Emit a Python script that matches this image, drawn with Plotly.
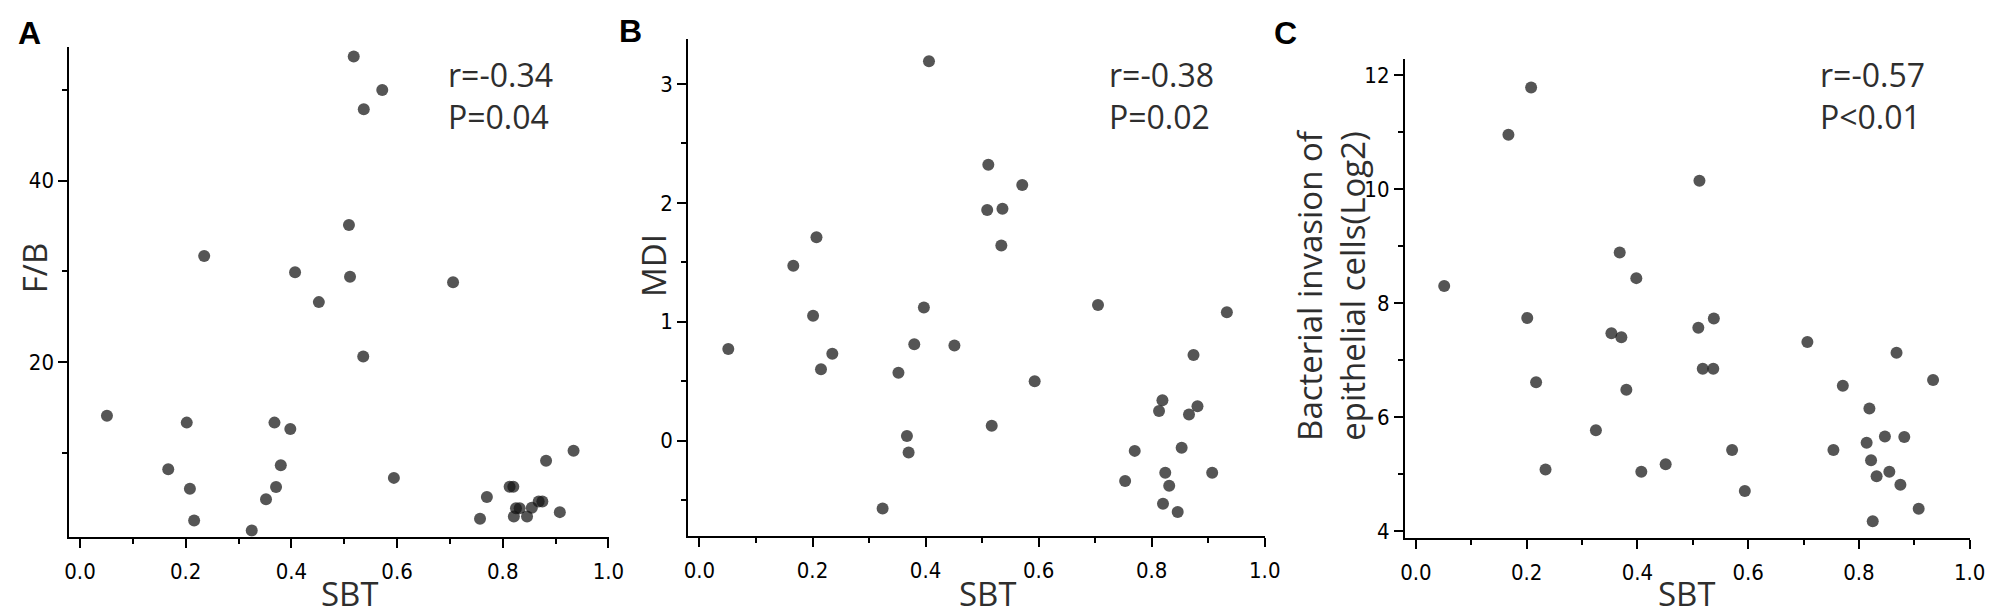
import plotly.graph_objects as go

# panel A: SBT vs F/B
sbt_a = [0.518, 0.572, 0.537, 0.509, 0.235, 0.407, 0.511, 0.706, 0.452, 0.536,
         0.051, 0.202, 0.368, 0.398, 0.167, 0.380, 0.594, 0.208, 0.371, 0.352,
         0.216, 0.325, 0.757, 0.770, 0.813, 0.820, 0.825, 0.832, 0.821, 0.846,
         0.855, 0.868, 0.875, 0.908, 0.882, 0.934]
fb = [53.7, 50.0, 47.9, 35.1, 31.7, 29.9, 29.4, 28.8, 26.6, 20.6,
      14.05, 13.3, 13.3, 12.6, 8.15, 8.6, 7.2, 6.0, 6.2, 4.84,
      2.5, 1.38, 2.7, 5.1, 6.23, 6.23, 3.86, 3.86, 2.95, 2.95,
      3.9, 4.6, 4.6, 3.42, 9.1, 10.2]

# panel B: SBT vs MDI
sbt_b = [0.406, 0.511, 0.509, 0.536, 0.534, 0.207, 0.166, 0.201, 0.397, 0.051,
         0.235, 0.215, 0.380, 0.451, 0.352, 0.517, 0.367, 0.370, 0.324, 0.571,
         0.705, 0.933, 0.874, 0.593, 0.819, 0.813, 0.881, 0.866, 0.770, 0.853,
         0.753, 0.824, 0.831, 0.907, 0.820, 0.846]
mdi = [3.19, 2.32, 1.94, 1.95, 1.64, 1.71, 1.47, 1.05, 1.12, 0.77,
       0.73, 0.60, 0.81, 0.80, 0.57, 0.125, 0.04, -0.10, -0.57, 2.15,
       1.14, 1.08, 0.72, 0.50, 0.34, 0.25, 0.29, 0.22, -0.086, -0.06,
       -0.34, -0.27, -0.38, -0.27, -0.53, -0.60]

# panel C: SBT vs bacterial invasion (log2)
sbt_c = [0.208, 0.167, 0.512, 0.368, 0.398, 0.051, 0.201, 0.538, 0.510, 0.353,
         0.371, 0.707, 0.868, 0.518, 0.537, 0.934, 0.217, 0.771, 0.380, 0.819,
         0.325, 0.847, 0.882, 0.814, 0.571, 0.754, 0.822, 0.451, 0.234, 0.407,
         0.855, 0.832, 0.875, 0.594, 0.908, 0.825]
invasion = [11.79, 10.96, 10.15, 8.89, 8.44, 8.30, 7.74, 7.73, 7.57, 7.47,
            7.40, 7.32, 7.13, 6.85, 6.85, 6.65, 6.61, 6.55, 6.48, 6.15,
            5.77, 5.66, 5.65, 5.55, 5.42, 5.42, 5.24, 5.17, 5.08, 5.04,
            5.04, 4.96, 4.81, 4.70, 4.39, 4.17]

panel_letters = ["A", "B", "C"]
y_titles = ["F/B", "MDI", "Bacterial invasion of<br>epithelial cells(Log2)"]
r_texts = ["r=-0.34", "r=-0.38", "r=-0.57"]
p_texts = ["P=0.04", "P=0.02", "P<0.01"]

W, H = 1994, 613
TICK_FONT = dict(family="Liberation Sans Narrow, Arial Narrow, DejaVu Sans Condensed, sans-serif",
                 size=22, color="black")
TITLE_FONT = dict(family="Open Sans, Noto Sans, sans-serif", size=33, color="#2e2e2e")
STAT_FONT = dict(family="Open Sans, Noto Sans, sans-serif", size=32, color="#2e2e2e")


def px_x(v):
    return v / W


def px_y(v):
    return 1 - v / H


# pixel boxes of each plot area: left, right, top, bottom
boxes = [(57, 602, 39, 534), (682, 1265, 31, 533), (1406, 1977, 52, 535)]
y_ranges = [[0.7, 54.8], [-0.8, 3.38], [3.88, 12.28]]
y_dticks = [20, 1, 2]
y_minor = [10, 0.5, 1]

fig = go.Figure()

series = [(sbt_a, fb), (sbt_b, mdi), (sbt_c, invasion)]
for i, (xs, ys) in enumerate(series):
    suffix = "" if i == 0 else str(i + 1)
    fig.add_trace(
        go.Scatter(
            x=xs,
            y=ys,
            mode="markers",
            marker=dict(size=12, color="rgb(20,20,20)", opacity=0.72,
                        line=dict(width=0)),
            xaxis="x" + suffix,
            yaxis="y" + suffix,
            showlegend=False,
        )
    )

layout = {}
for i, (l, r, t, b) in enumerate(boxes):
    suffix = "" if i == 0 else str(i + 1)
    layout["xaxis" + suffix] = dict(
        domain=[px_x(l), px_x(r)],
        anchor="y" + suffix,
        range=[-0.02, 1.001],
        dtick=0.2,
        tick0=0,
        tickformat=".1f",
        showline=True,
        linecolor="black",
        linewidth=2,
        ticks="outside",
        ticklen=9,
        tickwidth=2,
        tickcolor="black",
        ticklabelstandoff=5,
        minor=dict(dtick=0.1, ticks="outside", ticklen=5, tickwidth=2, tickcolor="black"),
        showgrid=False,
        zeroline=False,
        tickfont=TICK_FONT,
    )
    layout["yaxis" + suffix] = dict(
        domain=[px_y(b), px_y(t)],
        anchor="x" + suffix,
        range=y_ranges[i],
        dtick=y_dticks[i],
        tick0=0,
        showline=True,
        linecolor="black",
        linewidth=2,
        ticks="outside",
        ticklen=9,
        tickwidth=2,
        tickcolor="black",
        minor=dict(dtick=y_minor[i], ticks="outside", ticklen=5, tickwidth=2, tickcolor="black"),
        showgrid=False,
        zeroline=False,
        tickfont=TICK_FONT,
    )

annotations = []
letter_pos = [(3, 5), (610, 3), (1272, 5)]
stat_left = [437, 1105, 1823]
x_title_cx = [340, 985, 1691]
y_title_pos = [(22, 263), (647, 260), (1332, 280)]

for i in range(3):
    lx, ly = letter_pos[i]
    annotations.append(dict(
        text="<b>%s</b>" % panel_letters[i], x=px_x(lx), y=px_y(ly),
        xref="paper", yref="paper", xanchor="left", yanchor="top", showarrow=False,
        font=dict(family="Liberation Sans, Arial, sans-serif", size=32, color="black"),
    ))
    annotations.append(dict(
        text=r_texts[i] + "<br>" + p_texts[i], x=px_x(stat_left[i]), y=px_y(88),
        xref="paper", yref="paper", xanchor="left", yanchor="middle", align="left",
        showarrow=False, font=STAT_FONT,
    ))
    annotations.append(dict(
        text="SBT", x=px_x(x_title_cx[i]), y=px_y(591), xref="paper", yref="paper",
        xanchor="center", yanchor="middle", showarrow=False, font=TITLE_FONT, height=38,
    ))
    tx, ty = y_title_pos[i]
    annotations.append(dict(
        text=y_titles[i], x=px_x(tx), y=px_y(ty), xref="paper", yref="paper",
        xanchor="center", yanchor="middle", showarrow=False, textangle=-90,
        font=TITLE_FONT,
    ))

fig.update_layout(
    **layout,
    annotations=annotations,
    width=W,
    height=H,
    margin=dict(l=0, r=0, t=0, b=0),
    paper_bgcolor="white",
    plot_bgcolor="white",
    showlegend=False,
)

fig.write_html("out.html")
